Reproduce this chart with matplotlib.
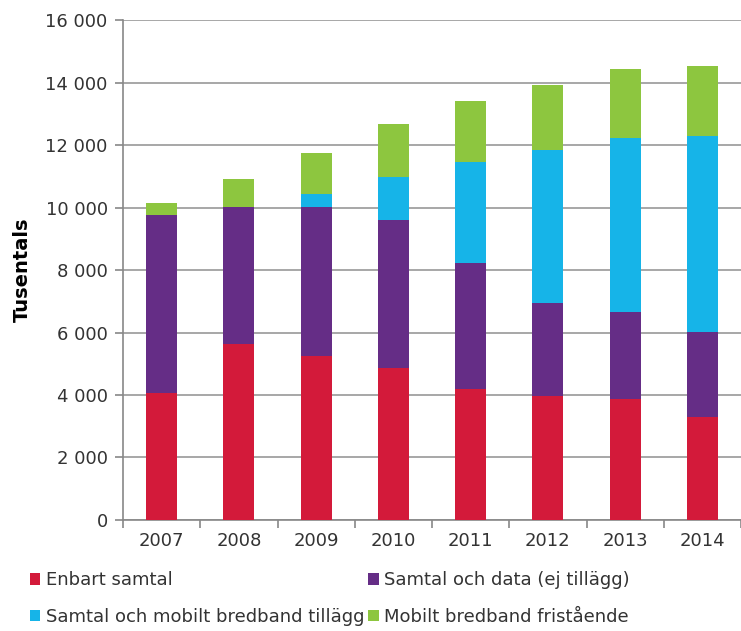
import matplotlib
matplotlib.use("Agg")
import matplotlib.pyplot as plt
import numpy as np
from matplotlib.ticker import FuncFormatter, FixedLocator

years = ["2007", "2008", "2009", "2010", "2011", "2012", "2013", "2014"]
enbart = [4080, 5640, 5250, 4860, 4190, 3970, 3870, 3310]
samtal_data = [5670, 4380, 4770, 4730, 4040, 2980, 2800, 2710]
tillagg = [0, 0, 410, 1380, 3230, 4910, 5560, 6280]
fristaende = [400, 900, 1310, 1710, 1940, 2080, 2210, 2240]

labels = ["Enbart samtal", "Samtal och data (ej tillägg)",
          "Samtal och mobilt bredband tillägg", "Mobilt bredband fristående"]
colors = ["#D31A3A", "#652D86", "#16B4E8", "#8DC63F"]

plt.rcParams['font.family'] = ['DejaVu Sans']

fig = plt.figure(figsize=(7.41, 6.31), dpi=100)
ax = fig.add_axes([0.166, 0.176, 0.834, 0.792])

x = np.arange(len(years))
series = [enbart, samtal_data, tillagg, fristaende]
bottom = np.zeros(len(years))
bars = []
for vals, col, lab in zip(series, colors, labels):
    b = ax.bar(x, vals, 0.4, bottom=bottom, color=col, label=lab, zorder=3)
    bars.append(b)
    bottom += np.array(vals)

ax.set_xlim(-0.5, len(years) - 0.5)
ax.set_ylim(0, 16000)
ax.set_yticks(np.arange(0, 16001, 2000))
ax.yaxis.set_major_formatter(FuncFormatter(lambda v, p: f"{int(v):,}".replace(",", " ")))
ax.grid(axis="y", color="#A0A0A0", linewidth=1.3, zorder=0)

ax.set_xticks(x)
ax.set_xticklabels(years)
ax.xaxis.set_minor_locator(FixedLocator(np.arange(-0.5, len(years), 1)))
ax.tick_params(axis="x", which="major", length=0, pad=9, labelsize=13, colors="#333333")
ax.tick_params(axis="x", which="minor", length=6, color="#888888", width=1.2)
ax.tick_params(axis="y", length=6, color="#888888", width=1.2, labelsize=13, labelcolor="#333333", pad=5)

for s in ["top", "right"]:
    ax.spines[s].set_visible(False)
for s in ["left", "bottom"]:
    ax.spines[s].set_color("#888888")
    ax.spines[s].set_linewidth(1.2)

ax.set_ylabel("Tusentals", fontsize=14, fontweight="bold", labelpad=10)

order = [0, 2, 1, 3]
fig.legend([bars[i] for i in order], [labels[i] for i in order], ncol=2,
           loc="lower left", bbox_to_anchor=(0.018, -0.018), frameon=False,
           fontsize=13, handlelength=0.6, handleheight=0.6, handletextpad=0.3,
           labelspacing=1.05, columnspacing=0.2, labelcolor="#333333")

fig.savefig("out.png", dpi=100)
